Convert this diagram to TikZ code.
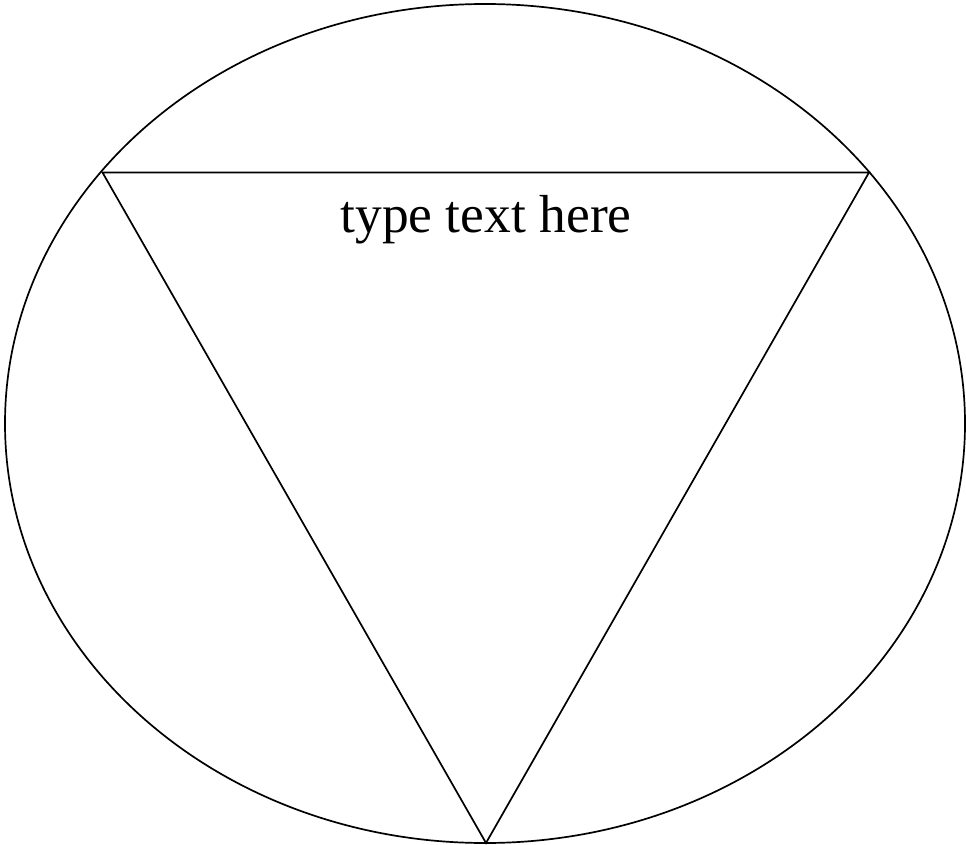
\documentclass[tikz,border=0pt]{standalone}
\usepackage{fontspec}
\setmainfont{Liberation Serif}
\begin{document}
\begin{tikzpicture}[x=1pt,y=-1pt,line width=1.7pt,
  shape line/.style={draw=black,line join=miter},
  label text/.style={font=\fontsize{53.5}{60}\selectfont,anchor=base,inner sep=0pt}]
\useasboundingbox (0,0) rectangle (966,845);
\draw[shape line] (485,423.5) ellipse [x radius=480, y radius=419.5];
\coordinate (tl) at (102.5,172.5);
\coordinate (tr) at (869,172.5);
\coordinate (bt) at (486,843);
\draw[shape line] (tl) -- (tr) -- (bt) -- cycle;
\node[label text] (lbl) at (486,233) {type text here};
\end{tikzpicture}
\end{document}
